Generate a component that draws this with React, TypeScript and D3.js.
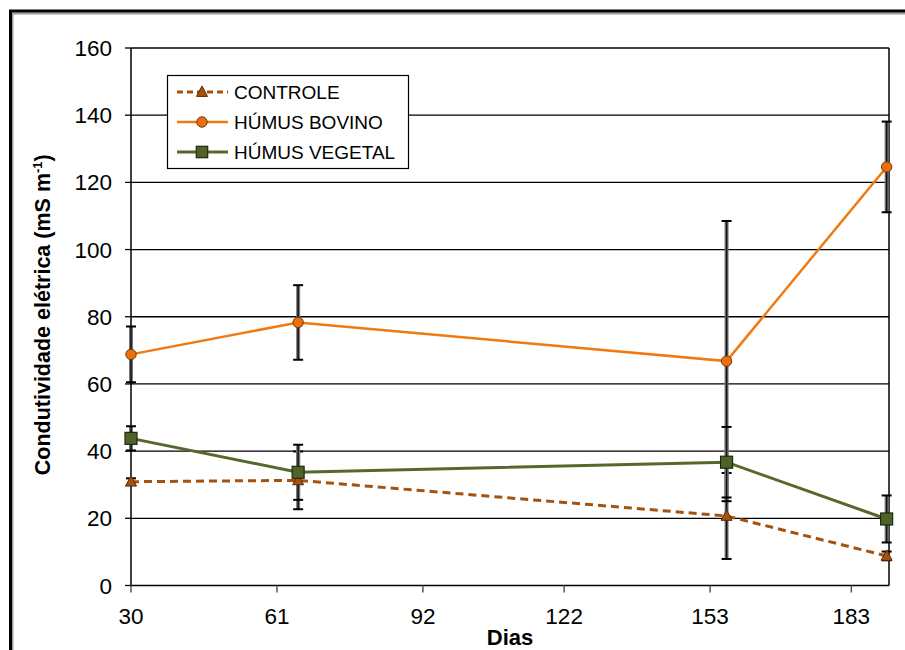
import React from "react";
import * as d3 from "d3";

const days = [30, 65.5, 156.5, 190.5];
const xTicks = [30, 61, 92, 122, 153, 183];
const yTicks = [0, 20, 40, 60, 80, 100, 120, 140, 160];

const seriesNames = ["CONTROLE", "HÚMUS BOVINO", "HÚMUS VEGETAL"];
const controle = [30.9, 31.3, 20.7, 8.8];
const controleErr = [1.0, 8.6, 12.8, 1.3];
const bovino = [68.8, 78.3, 66.8, 124.6];
const bovinoErr = [8.3, 11.1, 41.7, 13.5];
const vegetal = [43.8, 33.7, 36.7, 19.8];
const vegetalErr = [3.6, 8.2, 10.5, 7.0];

const W = 905;
const H = 650;
const left = 131;
const right = 889;
const top = 48;
const bottom = 585.5;

export default function App() {
  const x = d3.scaleLinear().domain([30, 191]).range([left, right]);
  const y = d3.scaleLinear().domain([0, 160]).range([bottom, top]);
  const line = d3
    .line<number>()
    .x((_, i) => x(days[i]))
    .y((v) => y(v));

  const series = [
    { name: seriesNames[0], vals: controle, err: controleErr, color: "#A5520F", width: 3, dash: "8,5", marker: "tri", fill: "#A5520F" },
    { name: seriesNames[1], vals: bovino, err: bovinoErr, color: "#F07A10", width: 2.5, dash: undefined, marker: "circ", fill: "#EE6E0A" },
    { name: seriesNames[2], vals: vegetal, err: vegetalErr, color: "#56692C", width: 3, dash: undefined, marker: "sq", fill: "#4F6228" },
  ];

  const marker = (type: string, cx: number, cy: number, fill: string, key: any, scale = 1) => {
    if (type === "circ")
      return <circle key={key} cx={cx} cy={cy} r={5.2 * scale} fill={fill} stroke="#6b3a10" strokeWidth={1} />;
    if (type === "sq") {
      const s = 12 * scale;
      return <rect key={key} x={cx - s / 2} y={cy - s / 2} width={s} height={s} fill={fill} stroke="#1e2a0c" strokeWidth={1.2} />;
    }
    const s = 11 * scale;
    const pts = `${cx},${cy - s * 0.55} ${cx - s / 2},${cy + s * 0.4} ${cx + s / 2},${cy + s * 0.4}`;
    return <polygon key={key} points={pts} fill={fill} stroke="#5a2a05" strokeWidth={1} />;
  };

  const font = "Arial, 'Liberation Sans', sans-serif";

  return (
    <svg width={W} height={H} style={{ position: "absolute", left: 0, top: 0, background: "#fff" }} fontFamily={font}>
      <rect x={0} y={0} width={W} height={H} fill="#fff" />
      {/* outer frame */}
      <rect x={12.5} y={13.5} width={W} height={H} fill="none" stroke="#9a9a9a" strokeWidth={2} />
      <rect x={10.5} y={11} width={W} height={H} fill="none" stroke="#000" strokeWidth={3} />

      {/* gridlines */}
      {yTicks.map((t) => (
        <g key={"g" + t}>
          {t > 0 && <line x1={left} x2={right} y1={y(t)} y2={y(t)} stroke="#000" strokeWidth={1.3} />}
          <line x1={left - 6} x2={left} y1={y(t)} y2={y(t)} stroke="#000" strokeWidth={1.3} />
          <text x={112} y={y(t)} dy="0.36em" textAnchor="end" fontSize={22.5} fill="#000">
            {t}
          </text>
        </g>
      ))}
      {/* plot border */}
      <line x1={right} x2={right} y1={top} y2={bottom} stroke="#000" strokeWidth={1.5} />
      <line x1={left} x2={left} y1={top} y2={bottom} stroke="#000" strokeWidth={1.5} />
      <line x1={left} x2={right} y1={bottom} y2={bottom} stroke="#000" strokeWidth={1.5} />

      {xTicks.map((t) => (
        <g key={"x" + t}>
          <line x1={x(t)} x2={x(t)} y1={bottom} y2={bottom + 7} stroke="#555" strokeWidth={1.5} />
          <text x={x(t)} y={624} textAnchor="middle" fontSize={22.5} fill="#000">
            {t}
          </text>
        </g>
      ))}

      <text x={510} y={645} textAnchor="middle" fontSize={22} fontWeight="bold" fill="#000">
        Dias
      </text>
      <text
        transform={`translate(50,${(top + bottom) / 2 - 2}) rotate(-90)`}
        textAnchor="middle"
        fontSize={21.5}
        fontWeight="bold"
        fill="#000"
      >
        Condutividade elétrica (mS m
        <tspan dy={-8} fontSize={13}>-1</tspan>
        <tspan dy={8}>)</tspan>
      </text>

      {/* lines */}
      {series.map((s) => (
        <path key={"l" + s.name} d={line(s.vals) || ""} fill="none" stroke={s.color} strokeWidth={s.width} strokeDasharray={s.dash} />
      ))}

      {/* error bars */}
      {series.map((s) =>
        s.vals.map((v, i) => {
          const cx = x(days[i]);
          const y1 = y(v + s.err[i]);
          const y2 = y(v - s.err[i]);
          return (
            <g key={"e" + s.name + i}>
              <line x1={cx} x2={cx} y1={y1} y2={y2} stroke="#777" strokeWidth={4} />
              <line x1={cx} x2={cx} y1={y1} y2={y2} stroke="#111" strokeWidth={1.5} />
              <line x1={cx - 5} x2={cx + 5} y1={y1} y2={y1} stroke="#000" strokeWidth={2} />
              <line x1={cx - 5} x2={cx + 5} y1={y2} y2={y2} stroke="#000" strokeWidth={2} />
            </g>
          );
        })
      )}

      {/* markers */}
      {series.map((s) => s.vals.map((v, i) => marker(s.marker, x(days[i]), y(v), s.fill, "m" + s.name + i)))}

      {/* legend */}
      <rect x={167.5} y={75.5} width={241} height={93} fill="#fff" stroke="#000" strokeWidth={1.2} />
      {series.map((s, i) => {
        const ly = 92 + i * 30;
        return (
          <g key={"lg" + s.name}>
            <line x1={177} x2={228} y1={ly} y2={ly} stroke={s.color} strokeWidth={s.width} strokeDasharray={s.dash ? "6,4" : undefined} />
            {marker(s.marker, 202, ly, s.fill, "lm" + i, s.marker === "sq" ? 0.95 : 1)}
            <text x={234} y={ly} dy="0.36em" fontSize={19} fill="#000">
              {s.name}
            </text>
          </g>
        );
      })}
    </svg>
  );
}
